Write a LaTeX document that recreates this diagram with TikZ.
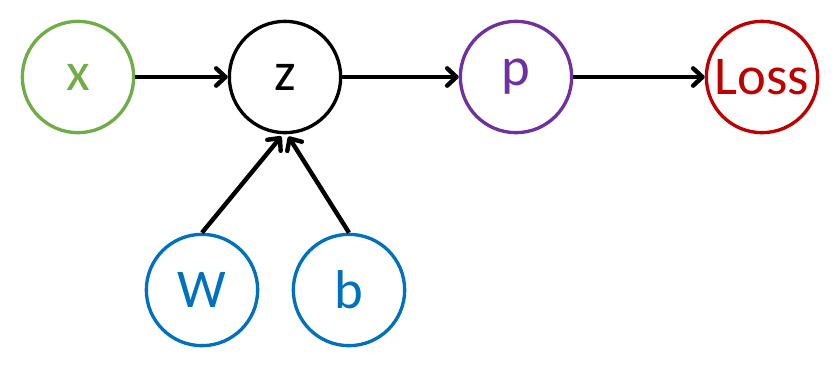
\documentclass[tikz,border=0pt]{standalone}
\usepackage{fontspec}
\setmainfont{Carlito}
\usetikzlibrary{arrows.meta, positioning}
\definecolor{cgreen}{HTML}{70AD47}
\definecolor{cpurple}{HTML}{7030A0}
\definecolor{cred}{HTML}{C00000}
\definecolor{cblue}{HTML}{0070C0}

\begin{document}
\begin{tikzpicture}[
    x=0.75pt, y=-0.75pt,
    var/.style={
        circle, draw=#1, text=#1, line width=2.5pt, minimum size=83.5pt,
        inner sep=0pt, font=\fontsize{41}{41}\selectfont},
    flow/.style={-{Straight Barb[length=7pt, width=13pt, round]}, line width=3.3pt}
]
\useasboundingbox (0,0) rectangle (834,368);

%% Top row: input -> hidden -> prediction -> loss
\node[var=cgreen]  (x)    at (78,77)  {x};
\node[var=black]   (z)    at (285,77) {z};
\node[var=cpurple] (p)    at (516,77) {p};
\node[var=cred]    (loss) at (762,77) {Loss};

%% Parameters below
\node[var=cblue] (w) at (202,290) {W};
\node[var=cblue] (b) at (349,290) {b};

%% Connectors
\draw[flow] (x) -- (z);
\draw[flow] (z) -- (p);
\draw[flow] (p) -- (loss);
\draw[flow, shorten >=2pt] (w.north) -- ([xshift=-1.5pt]z.south);
\draw[flow, shorten >=2pt] (b.north) -- ([xshift=1.5pt]z.south);

\end{tikzpicture}
\end{document}
